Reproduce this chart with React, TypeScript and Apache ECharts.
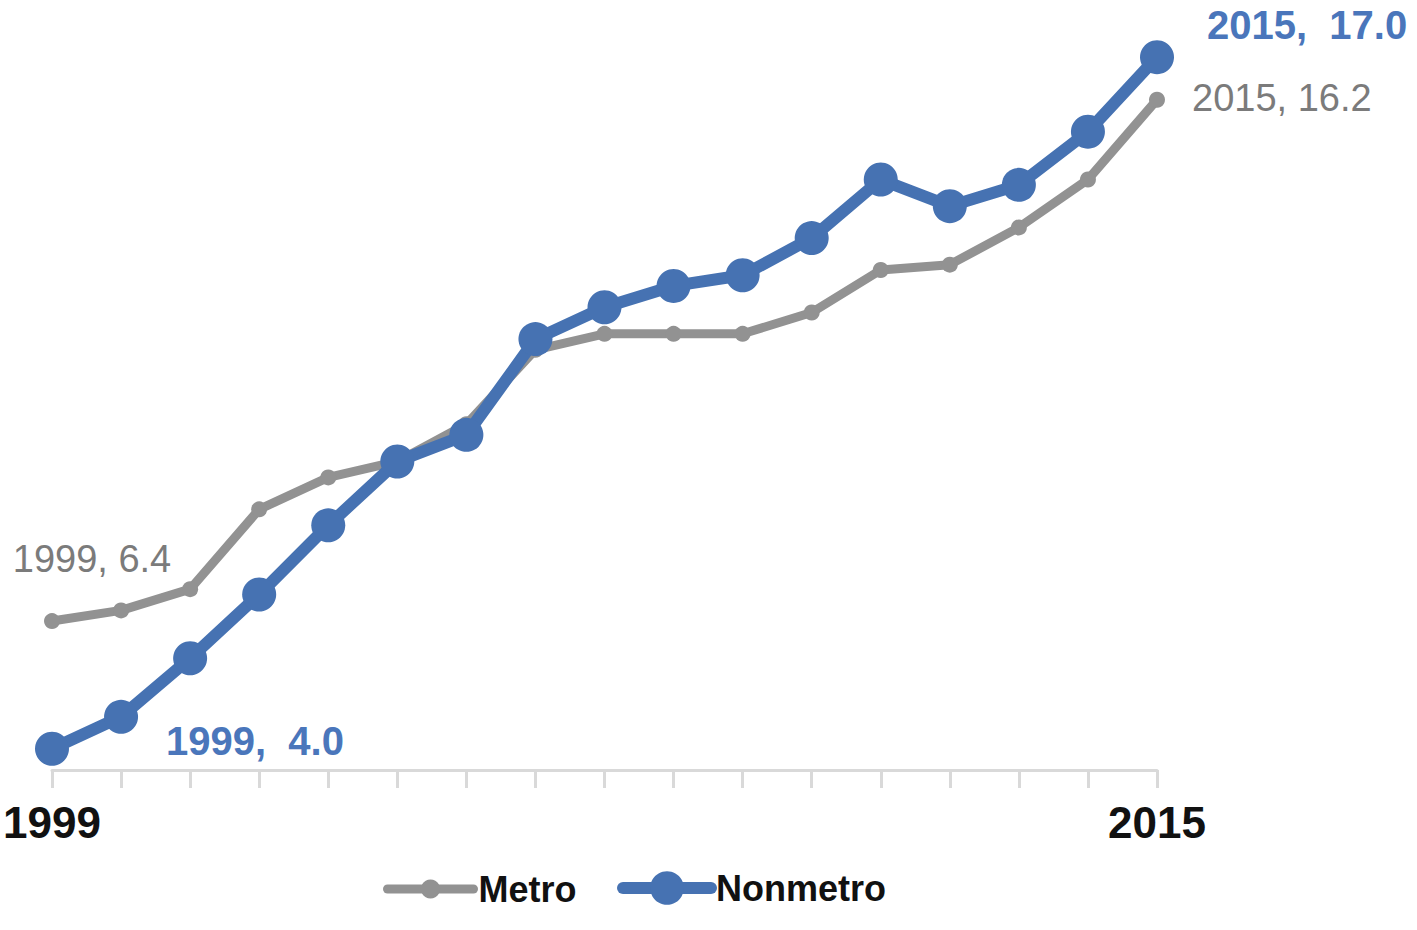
import React, { useEffect, useRef } from "react";
import * as echarts from "echarts";

const years = ["1999","2000","2001","2002","2003","2004","2005","2006","2007","2008","2009","2010","2011","2012","2013","2014","2015"];
const metro = [6.4, 6.6, 7.0, 8.5, 9.1, 9.4, 10.1, 11.5, 11.8, 11.8, 11.8, 12.2, 13.0, 13.1, 13.8, 14.7, 16.2];
const nonmetro = [4.0, 4.6, 5.7, 6.9, 8.2, 9.4, 9.9, 11.7, 12.3, 12.7, 12.9, 13.6, 14.7, 14.2, 14.6, 15.6, 17.0];

const GRAY = "#929292";
const GRAY_TEXT = "#7b7b7b";
const BLUE = "#4672b2";
const BLUE_TEXT = "#4a76bb";
const FONT = "'Liberation Sans', Arial, sans-serif";

export default function App() {
  const ref = useRef<HTMLDivElement>(null);
  useEffect(() => {
    if (!ref.current) return;
    const chart = echarts.init(ref.current, null, { renderer: "svg" });
    const last = years.length - 1;
    const metroData = metro.map((v, i) => {
      if (i === 0)
        return { value: v, label: { show: true, position: "top", offset: [40, -30], formatter: `${years[i]}, ${v.toFixed(1)}` } };
      if (i === last)
        return { value: v, label: { show: true, position: "right", offset: [22, -2], formatter: `${years[i]}, ${v.toFixed(1)}` } };
      return v;
    });
    const nonData = nonmetro.map((v, i) => {
      if (i === 0)
        return { value: v, label: { show: true, position: "right", offset: [92, -8], formatter: `${years[i]},  ${v.toFixed(1)}` } };
      if (i === last)
        return { value: v, label: { show: true, position: "right", offset: [28, -32], formatter: `${years[i]},  ${v.toFixed(1)}` } };
      return v;
    });
    const legendText = { fontFamily: FONT, fontWeight: "bold", fontSize: 36, color: "#111" };
    chart.setOption({
      animation: false,
      backgroundColor: "#ffffff",
      grid: { left: 52, right: 260, top: 4, bottom: 160, containLabel: false },
      legend: [
        {
          data: ["Metro"],
          left: 378,
          top: 866,
          itemWidth: 86,
          itemHeight: 24,
          textStyle: legendText,
          lineStyle: { width: 9, cap: "round" },
        },
        {
          data: ["Nonmetro"],
          left: 612,
          top: 865,
          itemWidth: 88,
          itemHeight: 42,
          textStyle: legendText,
          lineStyle: { width: 12, cap: "round" },
        },
      ],
      xAxis: {
        type: "category",
        data: years,
        boundaryGap: false,
        axisLine: { lineStyle: { color: "#d9d9d9", width: 3 } },
        axisTick: { show: true, interval: 0, length: 18, lineStyle: { color: "#d9d9d9", width: 3 } },
        axisLabel: {
          interval: (idx: number) => idx === 0 || idx === last,
          margin: 30,
          fontFamily: FONT,
          fontWeight: "bold",
          fontSize: 44,
          color: "#111",
        },
      },
      yAxis: {
        type: "value",
        min: 3.6,
        max: 18,
        show: false,
        splitLine: { show: false },
      },
      series: [
        {
          name: "Metro",
          type: "line",
          data: metroData,
          color: GRAY,
          lineStyle: { color: GRAY, width: 9 },
          itemStyle: { color: GRAY },
          symbol: "circle",
          symbolSize: 16,
          label: { fontFamily: FONT, fontSize: 38, color: GRAY_TEXT },
          z: 2,
        },
        {
          name: "Nonmetro",
          type: "line",
          data: nonData,
          color: BLUE,
          lineStyle: { color: BLUE, width: 12 },
          itemStyle: { color: BLUE },
          symbol: "circle",
          symbolSize: 34,
          label: { fontFamily: FONT, fontSize: 40, fontWeight: "bold", color: BLUE_TEXT },
          z: 3,
        },
      ],
    });
    return () => chart.dispose();
  }, []);
  return <div ref={ref} style={{ position: "fixed", left: 0, top: 0, width: 1417, height: 930 }} />;
}
